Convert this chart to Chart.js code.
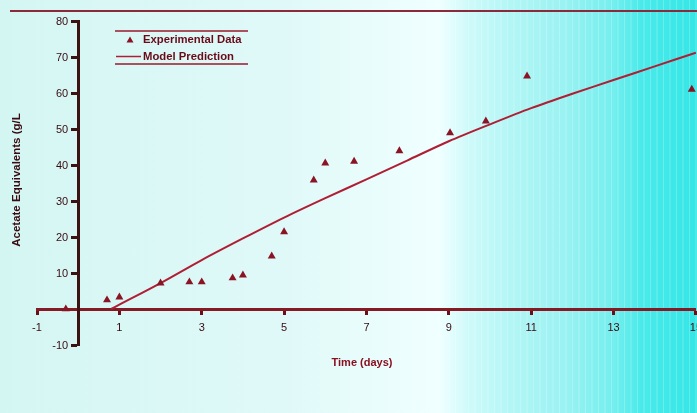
<!DOCTYPE html>
<html>
<head>
<meta charset="utf-8">
<script src="https://cdn.jsdelivr.net/npm/chart.js@4/dist/chart.umd.min.js"></script>
<style>
  html, body { margin: 0; padding: 0; }
  body {
    width: 697px; height: 413px; overflow: hidden; position: relative;
    background: linear-gradient(90deg, #d4f6f3 0%, #dff9f8 40%, #f0ffff 63%, #d0fafa 67%,
      #b4f6f6 73%, #9af2f2 81%, #74eeee 88%, #4aeaea 92%, #34e6e6 100%);
  }
  .streaks {
    position: absolute; left: 455px; top: 0; width: 242px; height: 413px;
    background: repeating-linear-gradient(90deg, rgba(255,255,255,0.22) 0 1px, transparent 1px 6px,
      rgba(255,255,255,0.12) 6px 8px, transparent 8px 13px);
  }
  .rule { position: absolute; left: 10px; top: 10px; width: 687px; height: 2px; background: #8a2a3a; }
  .wrap { position: absolute; left: 0; top: 0; }
</style>
</head>
<body>
<div class="streaks"></div>
<div class="rule"></div>
<div class="wrap"><canvas id="chart" width="710" height="413"></canvas></div>
<script>
// time (days) vs acetate equivalents (g/L)
const expTime = [-0.3, 0.7, 1.0, 2.0, 2.7, 3.0, 3.75, 4.0, 4.7, 5.0, 5.72, 6.0, 6.7, 7.8, 9.03, 9.9, 10.9, 14.9];
const expAcetate = [0, 2.5, 3.3, 7.2, 7.5, 7.5, 8.6, 9.4, 14.7, 21.4, 35.8, 40.5, 41.0, 43.9, 48.9, 52.2, 64.7, 61.0];

const modelTime = [0.8, 1, 2, 3, 4, 5, 6, 7, 8, 9, 10, 11, 12, 13, 14, 15];
const modelAcetate = [0, 1.2, 7.2, 13.6, 19.6, 25.4, 30.8, 36.0, 41.3, 46.6, 51.3, 55.8, 59.8, 63.6, 67.4, 71.2];

const xTicks = [-1, 1, 3, 5, 7, 9, 11, 13, 15];
const yTicks = [-10, 10, 20, 30, 40, 50, 60, 70, 80];

const seriesNames = ['Experimental Data', 'Model Prediction'];

const pointColor = '#8a1424';
const lineColor = '#b01e34';
const textColor = '#3a0a10';
const fontFamily = '"Liberation Sans", Arial, sans-serif';

const toXY = (xs, ys) => xs.map((x, i) => ({ x, y: ys[i] }));

// legend box, axis titles, y labels (axis sits at x = 0 so labels go on its left)
const decorations = {
  id: 'decorations',
  afterDraw(chart) {
    const ctx = chart.ctx;
    const yScale = chart.scales.y;
    const axisX = chart.scales.x.getPixelForValue(0);
    ctx.save();

    ctx.fillStyle = textColor;
    ctx.font = `11px ${fontFamily}`;
    ctx.textAlign = 'right';
    ctx.textBaseline = 'middle';
    for (const tick of yScale.ticks) {
      ctx.fillText(String(tick.value), axisX - 10, yScale.getPixelForValue(tick.value) + 0.5);
    }

    // legend
    ctx.strokeStyle = '#9a1a2c';
    ctx.lineWidth = 1.5;
    ctx.beginPath();
    ctx.moveTo(115, 31); ctx.lineTo(248, 31);
    ctx.moveTo(115, 64); ctx.lineTo(248, 64);
    ctx.stroke();

    ctx.fillStyle = pointColor;
    ctx.beginPath();
    ctx.moveTo(130, 36.5); ctx.lineTo(133.5, 42.5); ctx.lineTo(126.5, 42.5);
    ctx.closePath();
    ctx.fill();

    ctx.strokeStyle = lineColor;
    ctx.beginPath();
    ctx.moveTo(116, 56.5); ctx.lineTo(141, 56.5);
    ctx.stroke();

    ctx.fillStyle = '#6a0a18';
    ctx.font = `bold 11.3px ${fontFamily}`;
    ctx.textAlign = 'left';
    ctx.fillText(seriesNames[0], 143, 40);
    ctx.fillText(seriesNames[1], 143, 57);

    // x title
    ctx.fillStyle = '#8a1020';
    ctx.font = `bold 11px ${fontFamily}`;
    ctx.textAlign = 'center';
    ctx.fillText('Time (days)', 362, 363);

    // y title
    ctx.fillStyle = textColor;
    ctx.font = `bold 11.5px ${fontFamily}`;
    ctx.translate(17, 180);
    ctx.rotate(-Math.PI / 2);
    ctx.fillText('Acetate Equivalents (g/L', 0, 0);
    ctx.restore();
  }
};

new Chart(document.getElementById('chart'), {
  type: 'scatter',
  data: {
    datasets: [
      {
        label: seriesNames[0],
        data: toXY(expTime, expAcetate),
        pointStyle: 'triangle',
        pointRadius: 4.6,
        backgroundColor: pointColor,
        borderColor: pointColor,
        borderWidth: 0,
        showLine: false
      },
      {
        label: seriesNames[1],
        data: toXY(modelTime, modelAcetate),
        showLine: true,
        pointRadius: 0,
        borderColor: lineColor,
        borderWidth: 2,
        tension: 0.3
      }
    ]
  },
  options: {
    responsive: false,
    animation: false,
    layout: { padding: { left: 37, right: 11, top: 21, bottom: 68 } },
    plugins: { legend: { display: false }, tooltip: { enabled: false } },
    scales: {
      x: {
        type: 'linear',
        position: { y: 0 },
        min: xTicks[0],
        max: xTicks[xTicks.length - 1],
        afterBuildTicks: scale => { scale.ticks = xTicks.map(value => ({ value })); },
        grid: { drawOnChartArea: false, drawTicks: true, tickLength: 4, tickWidth: 3, tickColor: '#6a1018' },
        border: { color: '#861a24', width: 3 },
        ticks: { color: textColor, padding: 8, font: { family: fontFamily, size: 11 } }
      },
      y: {
        type: 'linear',
        position: { x: 0 },
        min: -10,
        max: 80,
        afterBuildTicks: scale => { scale.ticks = yTicks.map(value => ({ value })); },
        grid: { drawOnChartArea: false, drawTicks: true, tickLength: 6, tickWidth: 3, tickColor: '#3c1212' },
        border: { color: '#3c1212', width: 3 },
        ticks: { display: false }
      }
    }
  },
  plugins: [decorations]
});
</script>
</body>
</html>
